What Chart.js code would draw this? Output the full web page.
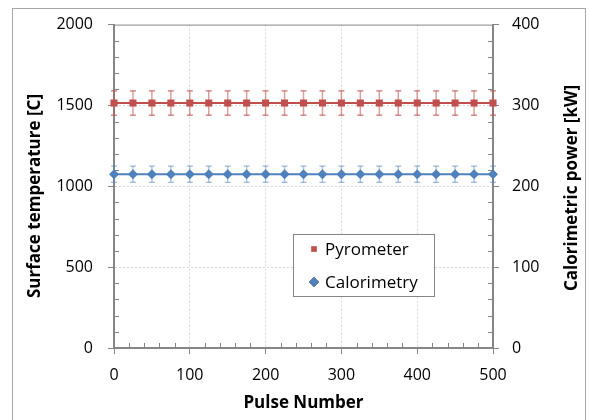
<!DOCTYPE html>
<html>
<head>
<meta charset="utf-8">
<script src="https://cdn.jsdelivr.net/npm/chart.js@4/dist/chart.umd.min.js"></script>
<style>
  html, body { margin: 0; padding: 0; background: #fff; }
  #wrap { width: 589px; height: 420px; position: relative; }
</style>
</head>
<body>
<div id="wrap"><canvas id="pulseChart"></canvas></div>
<script>
// Data
const pulseNumbers = [0, 25, 50, 75, 100, 125, 150, 175, 200, 225, 250, 275, 300, 325, 350, 375, 400, 425, 450, 475, 500]
const pyrometerTemp = [1515, 1515, 1515, 1515, 1515, 1515, 1515, 1515, 1515, 1515, 1515, 1515, 1515, 1515, 1515, 1515, 1515, 1515, 1515, 1515, 1515]
const pyrometerErr = [75, 75, 75, 75, 75, 75, 75, 75, 75, 75, 75, 75, 75, 75, 75, 75, 75, 75, 75, 75, 75]
const calorimetryPower = [215, 215, 215, 215, 215, 215, 215, 215, 215, 215, 215, 215, 215, 215, 215, 215, 215, 215, 215, 215, 215]
const calorimetryErr = [10, 10, 10, 10, 10, 10, 10, 10, 10, 10, 10, 10, 10, 10, 10, 10, 10, 10, 10, 10, 10]

const xTicks = [0, 100, 200, 300, 400, 500]
const tempTicks = [0, 500, 1000, 1500, 2000]
const powerTicks = [0, 100, 200, 300, 400]

const AXIS_GREY = "#868686"
const GRID_GREY = "#D9D9D9"
const FONT = "'Open Sans', 'Liberation Sans', sans-serif"

Chart.defaults.font.family = FONT
Chart.defaults.font.size = 16
Chart.defaults.color = "#000"

// error bars, drawn under the markers
const errorBars = {
  id: "errorBars",
  beforeDatasetsDraw(chart) {
    const ctx = chart.ctx
    chart.data.datasets.forEach((ds, di) => {
      const meta = chart.getDatasetMeta(di)
      const scale = chart.scales[ds.yAxisID]
      ds.errors.forEach((err, i) => {
        const pt = meta.data[i]
        const v = ds.data[i].y
        const yTop = scale.getPixelForValue(v + err)
        const yBot = scale.getPixelForValue(v - err)
        ctx.save()
        ctx.strokeStyle = ds.errorColor
        ctx.lineWidth = 1.5
        ctx.beginPath()
        ctx.moveTo(pt.x, yTop)
        ctx.lineTo(pt.x, yBot)
        ctx.stroke()
        ctx.strokeStyle = ds.capColor
        ctx.lineWidth = 1
        ctx.beginPath()
        ctx.moveTo(pt.x - 3, yTop)
        ctx.lineTo(pt.x + 3, yTop)
        ctx.moveTo(pt.x - 3, yBot)
        ctx.lineTo(pt.x + 3, yBot)
        ctx.stroke()
        ctx.restore()
      })
    })
  },
}

// minor ticks (pointing inward), top border, axis titles, legend, outer frame
const frameAndExtras = {
  id: "frameAndExtras",
  beforeDatasetsDraw(chart) {
    const ctx = chart.ctx
    const { x, y, y1 } = chart.scales
    const area = chart.chartArea
    ctx.save()
    ctx.strokeStyle = AXIS_GREY
    ctx.lineWidth = 1
    ctx.beginPath()
    // top border of plot area
    ctx.moveTo(area.left, area.top + 0.5)
    ctx.lineTo(area.right, area.top + 0.5)
    for (let v = 20; v < 500; v += 20) {
      if (v % 100 === 0) continue
      const px = Math.round(x.getPixelForValue(v)) + 0.5
      ctx.moveTo(px, area.bottom)
      ctx.lineTo(px, area.bottom - 5)
    }
    for (let v = 100; v < 2000; v += 100) {
      if (v % 500 === 0) continue
      const py = Math.round(y.getPixelForValue(v)) + 0.5
      ctx.moveTo(area.left, py)
      ctx.lineTo(area.left + 5, py)
    }
    for (let v = 20; v < 400; v += 20) {
      if (v % 100 === 0) continue
      const py = Math.round(y1.getPixelForValue(v)) + 0.5
      ctx.moveTo(area.right, py)
      ctx.lineTo(area.right - 5, py)
    }
    ctx.stroke()
    ctx.restore()
  },
  afterDraw(chart) {
    const ctx = chart.ctx
    ctx.save()
    // outer frame
    ctx.strokeStyle = "#A6A6A6"
    ctx.lineWidth = 1
    ctx.strokeRect(12.5, 8.5, 573, 430)

    // y axis titles, both reading upward
    ctx.fillStyle = "#000"
    ctx.font = "bold 17px " + FONT
    ctx.textAlign = "center"
    ctx.textBaseline = "middle"
    ctx.save()
    ctx.translate(35, 196)
    ctx.rotate(-Math.PI / 2)
    ctx.fillText(chart.options.scales.y.title.text, 0, 0)
    ctx.restore()
    ctx.save()
    ctx.translate(572, 188)
    ctx.rotate(-Math.PI / 2)
    ctx.fillText(chart.options.scales.y1.title.text, 0, 0)
    ctx.restore()

    // legend box
    ctx.fillStyle = "#fff"
    ctx.fillRect(293, 234, 141, 62)
    ctx.strokeStyle = AXIS_GREY
    ctx.strokeRect(293.5, 234.5, 141, 62)
    ctx.font = "17px " + FONT
    ctx.textAlign = "left"
    const rows = [249, 282]
    chart.data.datasets.forEach((ds, i) => {
      Chart.helpers.drawPoint(ctx, {
        pointStyle: ds.pointStyle,
        radius: ds.legendRadius,
        borderWidth: 0,
        rotation: 0,
      }, 314, rows[i])
      ctx.fillStyle = ds.backgroundColor
      ctx.fill()
      ctx.fillStyle = "#000"
      ctx.fillText(ds.label, 325, rows[i] + 1)
    })
    ctx.restore()
  },
}

const pyrometerPoints = pulseNumbers.map((p, i) => ({ x: p, y: pyrometerTemp[i] }))
const calorimetryPoints = pulseNumbers.map((p, i) => ({ x: p, y: calorimetryPower[i] }))

const edgeTransparent = (max) => (c) =>
  c.tick && (c.tick.value === 0 || c.tick.value === max) ? "rgba(0,0,0,0)" : GRID_GREY
const plainLabel = (v) => String(v)

new Chart(document.getElementById("pulseChart"), {
  type: "line",
  data: {
    datasets: [
      {
        label: "Pyrometer",
        data: pyrometerPoints,
        errors: pyrometerErr,
        yAxisID: "y",
        borderColor: "#C0504D",
        backgroundColor: "#C0504D",
        errorColor: "rgba(192, 80, 77, 0.55)",
        capColor: "#C0504D",
        borderWidth: 2,
        pointStyle: "rect",
        pointRadius: 5,
        legendRadius: 4,
        pointBorderWidth: 0,
        clip: false,
      },
      {
        label: "Calorimetry",
        data: calorimetryPoints,
        errors: calorimetryErr,
        yAxisID: "y1",
        borderColor: "#4F81BD",
        backgroundColor: "#4F81BD",
        errorColor: "rgba(79, 129, 189, 0.45)",
        capColor: "rgba(79, 129, 189, 0.7)",
        borderWidth: 2,
        pointStyle: "rectRot",
        pointRadius: 5,
        legendRadius: 5,
        pointBorderWidth: 0,
        clip: false,
      },
    ],
  },
  options: {
    responsive: true,
    maintainAspectRatio: false,
    animation: false,
    layout: { padding: { top: 24, left: 0, right: 0, bottom: 0 } },
    plugins: {
      legend: { display: false },
      tooltip: { enabled: false },
    },
    scales: {
      x: {
        type: "linear",
        min: 0,
        max: 500,
        afterFit: (s) => { s.height = 72 },
        afterBuildTicks: (s) => { s.ticks = xTicks.map((v) => ({ value: v })) },
        ticks: { padding: 12, maxRotation: 0, callback: plainLabel },
        grid: { color: edgeTransparent(500), tickColor: AXIS_GREY, tickLength: 6, lineWidth: 1 },
        border: { color: AXIS_GREY, width: 2, dash: [2, 2] },
        title: {
          display: true,
          text: "Pulse Number",
          font: { weight: "bold", size: 17 },
          padding: { top: 0, bottom: 7 },
        },
      },
      y: {
        position: "left",
        min: 0,
        max: 2000,
        afterFit: (s) => { s.width = 114 },
        afterBuildTicks: (s) => { s.ticks = tempTicks.map((v) => ({ value: v })) },
        ticks: { padding: 15, callback: plainLabel },
        grid: { color: edgeTransparent(2000), tickColor: AXIS_GREY, tickLength: 6, lineWidth: 1 },
        border: { color: AXIS_GREY, width: 2, dash: [2, 2] },
        title: { display: false, text: "Surface temperature [C]" },
      },
      y1: {
        position: "right",
        min: 0,
        max: 400,
        afterFit: (s) => { s.width = 96 },
        afterBuildTicks: (s) => { s.ticks = powerTicks.map((v) => ({ value: v })) },
        ticks: { padding: 13, callback: plainLabel },
        grid: { drawOnChartArea: false, tickColor: AXIS_GREY, tickLength: 6 },
        border: { color: AXIS_GREY, width: 2 },
        title: { display: false, text: "Calorimetric power [kW]" },
      },
    },
  },
  plugins: [errorBars, frameAndExtras],
})
</script>
</body>
</html>
